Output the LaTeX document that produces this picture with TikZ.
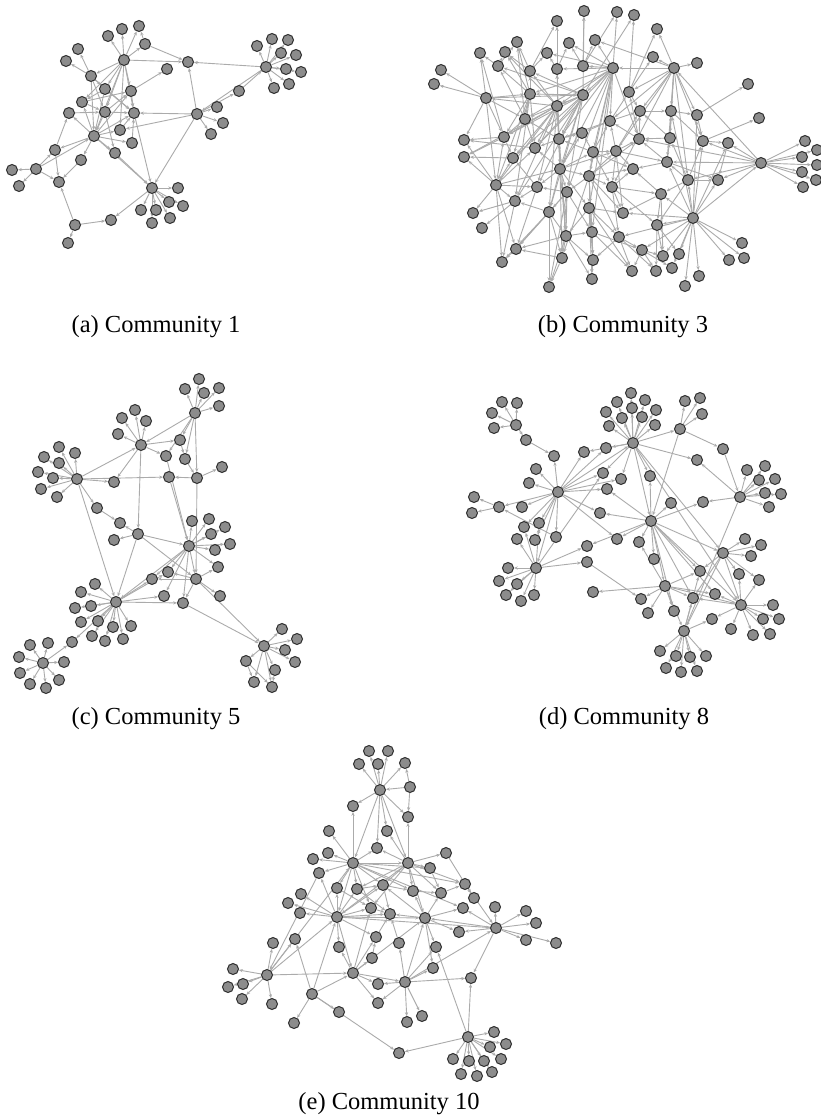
\documentclass[tikz,border=0pt]{standalone}
\usepackage{fontspec}
\setmainfont{Liberation Serif}
\usetikzlibrary{arrows.meta}
\definecolor{vfill}{HTML}{8C8C8C}
\definecolor{vline}{HTML}{2F2F2F}
\definecolor{egray}{HTML}{ABABAB}
\pgfdeclarelayer{back}
\pgfdeclarelayer{edges}
\pgfsetlayers{back,edges,main}
\tikzset{
  vtx/.style={circle, draw=vline, fill=vfill, line width=1pt, minimum size=11pt, inner sep=0pt},
  link/.style={draw=egray, line width=0.9pt, -{Stealth[length=3.8pt,width=3.2pt]}},
  caption/.style={anchor=base, font=\fontsize{24.5}{28}\selectfont, inner sep=0pt}
}
% place a community's vertices: prefix, list of id/x/y
\newcommand\placeall[2]{\foreach \vid/\px/\py in {#2} {\node[vtx] (#1\vid) at (\px,\py) {};}}
% draw a community's directed links: prefix, list of source/target
\newcommand\linkall[2]{\begin{pgfonlayer}{edges}\foreach \src/\dst in {#2} {\draw[link] (#1\src) -- (#1\dst);}\end{pgfonlayer}}
\begin{document}
\begin{tikzpicture}[x=1pt,y=-1pt]
\begin{pgfonlayer}{back}
\fill[white] (0,0) rectangle (821,1118);
\end{pgfonlayer}
\useasboundingbox (0,0) rectangle (821,1118);

% ---------------- Community 1 ----------------
\placeall{a}{1/122/29,2/139/26,3/108/36,4/145/44,5/124/60,6/78/49,7/66/61,8/91/76,9/188/62,10/167/69,
11/105/89,12/131/91,13/82/102,14/69/113,15/105/112,16/134/113,17/197/114,18/217/107,19/223/123,20/211/134,
21/120/130,22/94/136,23/132/143,24/115/153,25/55/150,26/81/160,27/36/169,28/12/170,29/19/186,30/59/182,
31/152/188,32/178/188,33/169/202,34/183/206,35/141/210,36/156/210,37/170/218,38/152/223,39/111/220,40/75/225,
41/68/243,42/239/91,43/266/67,44/257/46,45/272/39,46/288/40,47/281/53,48/296/55,49/286/69,50/301/72,
51/274/88,52/289/84}
\linkall{a}{5/1,5/2,5/3,5/4,4/2,4/9,5/9,43/9,17/9,8/6,8/7,5/8,5/11,5/12,5/15,5/13,5/22,5/16,5/21,
8/15,8/22,8/16,8/11,11/16,11/22,11/13,12/10,12/16,13/15,13/12,22/14,14/15,15/16,15/22,15/12,15/24,
17/16,17/21,17/18,17/19,17/20,17/42,42/43,43/17,17/31,16/31,22/21,22/23,22/24,22/26,22/25,22/16,22/12,
22/13,22/31,24/31,23/16,21/16,25/14,27/25,27/22,27/28,27/29,27/30,25/30,26/30,40/30,40/39,40/41,
31/39,31/32,31/33,31/34,31/35,31/36,31/37,31/38,43/44,43/45,43/46,43/47,43/48,43/49,43/50,43/51,43/52}
\node[caption] (capa) at (156,332) {(a) Community 1};

% ---------------- Community 3 ----------------
\placeall{b}{1/584/11,2/617/12,3/634/15,4/557/21,5/657/29,6/517/42,7/595/40,8/569/43,9/480/53,10/505/52,
11/547/53,12/653/57,13/498/66,14/441/70,15/530/71,16/557/69,17/583/66,18/613/68,19/674/68,20/697/63,
21/434/84,22/748/84,23/486/98,24/530/94,25/583/95,26/629/92,27/557/106,28/640/111,29/671/111,30/697/115,
31/759/118,32/525/119,33/610/121,34/504/137,35/464/140,36/559/139,37/582/133,38/639/139,39/670/138,40/703/141,
41/728/143,42/805/141,43/464/157,44/513/158,45/535/148,46/593/152,47/616/151,48/817/150,49/802/157,50/667/162,
51/761/163,52/817/165,53/560/169,54/633/169,55/589/176,56/802/172,57/816/180,58/803/187,59/496/185,60/537/187,
61/612/187,62/688/180,63/718/180,64/567/192,65/661/194,66/515/201,67/473/213,68/549/212,69/589/208,70/623/213,
71/482/228,72/657/225,73/693/218,74/566/236,75/592/232,76/619/237,77/742/243,78/516/249,79/642/250,80/663/256,
81/679/254,82/502/262,83/562/258,84/593/260,85/729/260,86/744/258,87/632/271,88/656/271,89/672/268,90/699/276,
91/592/279,92/549/287,93/685/286}
\linkall{b}{51/42,51/48,51/49,51/52,51/56,51/57,51/58,51/40,51/41,51/63,51/50,51/38,51/19,73/51,51/62,30/22,40/31,
19/18,19/20,19/12,19/5,19/29,19/30,19/28,19/26,19/33,19/39,19/7,19/40,19/50,19/47,19/61,19/62,
18/7,18/8,18/16,18/17,18/2,18/24,18/25,18/27,18/32,18/36,18/46,18/45,18/53,18/55,18/64,18/69,18/33,18/38,18/75,18/11,
25/1,25/3,25/13,25/15,25/24,25/27,25/32,25/34,25/36,25/45,25/53,25/60,25/64,25/68,25/44,25/66,
27/4,27/10,27/16,27/15,27/23,27/34,27/43,27/44,27/45,27/53,27/59,27/60,27/66,27/68,27/74,
23/21,23/14,23/9,23/24,23/25,23/34,23/59,23/32,23/35,
24/6,24/10,24/13,24/15,24/32,24/34,24/44,24/45,24/59,24/66,
59/67,59/34,59/35,59/43,59/44,59/66,59/78,59/82,59/60,59/45,59/53,
53/36,53/37,53/46,53/55,53/60,53/64,53/68,53/69,53/45,53/83,53/74,53/47,
55/46,55/47,55/61,55/64,55/69,55/70,55/75,55/76,55/84,55/83,55/38,55/54,
46/37,46/47,46/54,46/36,46/33,46/61,47/38,47/33,47/54,47/28,47/61,47/50,47/70,
64/60,64/68,64/74,64/75,64/83,64/92,64/78,68/66,68/78,68/74,68/83,68/82,68/92,
69/75,69/84,69/76,69/70,69/74,69/87,69/91,60/66,60/44,60/78,61/54,61/70,61/65,61/76,61/72,
62/50,62/65,62/39,62/40,62/63,62/72,65/72,65/54,65/70,65/80,
73/77,73/85,73/86,73/89,73/90,73/93,73/81,73/80,73/72,73/65,73/62,73/50,73/40,73/41,73/29,73/30,73/63,73/70,73/76,73/79,
76/79,76/87,76/88,76/84,74/83,74/84,74/91,74/92,74/75,74/78,75/84,75/91,75/87,75/79,
83/92,83/78,78/82,66/71,66/67,66/82,79/87,79/88,79/80,79/89,72/80,72/81,72/88,
50/54,50/38,50/39,50/63,39/28,39/29,39/38,38/33,38/28,38/26,33/26,33/28,33/36,33/37,
36/37,36/45,36/32,36/16,32/34,32/13,32/6,32/45,34/35,34/43,34/44,34/9,13/9,13/10,13/6,
15/10,15/11,15/6,15/4,16/4,16/8,16/11,17/1,17/7,17/8,17/2,26/3,26/5,26/12,26/28,
28/29,29/30,29/40,30/40,40/41,41/63,45/35,44/43}
\node[caption] (capb) at (623,332) {(b) Community 3};

% ---------------- Community 5 ----------------
\placeall{c}{1/199/379,2/185/389,3/219/388,4/204/393,5/219/406,6/195/413,7/135/410,8/122/418,9/146/421,10/118/434,
11/141/445,12/180/440,13/166/456,14/185/459,15/222/467,16/59/447,17/75/453,18/44/457,19/59/463,20/38/472,
21/53/478,22/77/479,23/114/482,24/169/477,25/197/478,26/41/489,27/57/497,28/97/508,29/120/523,30/138/534,
31/114/540,32/192/521,33/209/519,34/225/527,35/211/534,36/230/544,37/189/546,38/215/550,39/218/567,40/168/572,
41/152/579,42/196/579,43/95/584,44/81/592,45/164/596,46/220/596,47/116/602,48/183/603,49/75/608,50/91/606,
51/81/622,52/98/621,53/113/627,54/131/626,55/92/636,56/105/641,57/123/639,58/72/642,59/30/645,60/48/643,
61/19/657,62/43/663,63/64/662,64/20/673,65/59/680,66/30/684,67/46/688,68/264/646,69/282/629,70/297/639,
71/285/650,72/295/662,73/246/661,74/275/670,75/254/682,76/272/687}
\linkall{c}{6/1,6/2,6/3,6/4,6/5,6/11,6/12,6/13,6/14,6/25,
11/7,11/8,11/9,11/10,11/12,11/13,11/23,11/30,22/11,
22/16,22/17,22/18,22/19,22/20,22/21,22/26,22/27,22/23,22/24,25/24,22/28,22/47,
30/29,30/31,30/37,30/42,30/47,28/29,24/37,25/42,25/15,14/25,12/14,13/37,
37/32,37/33,37/34,37/35,37/36,37/38,37/39,37/47,37/41,37/40,37/48,37/45,37/42,
42/39,42/46,42/48,42/40,42/41,42/68,48/68,47/48,47/45,47/40,47/41,
47/43,47/44,47/49,47/50,47/51,47/52,47/53,47/54,47/55,47/56,47/57,47/58,
62/58,62/59,62/60,62/61,62/63,62/64,62/65,62/66,62/67,
68/69,68/70,68/71,68/72,68/73,68/74,68/75,68/76,73/75,73/76,74/76}
\node[caption] (capc) at (156,724) {(c) Community 5};

% ---------------- Community 8 ----------------
\placeall{d}{1/502/402,2/517/403,3/492/413,4/494/428,5/516/425,6/526/440,7/554/456,8/536/469,9/529/483,10/558/492,
11/474/497,12/472/513,13/499/507,14/522/507,15/524/527,16/539/523,17/517/539,18/535/540,19/556/537,20/508/568,
21/536/568,22/499/581,23/517/584,24/506/595,25/521/601,26/534/595,27/631/393,28/617/402,29/645/400,30/606/412,
31/632/408,32/656/410,33/622/418,34/642/417,35/609/426,36/655/425,37/633/443,38/606/448,39/584/452,40/685/401,
41/700/398,42/702/414,43/680/429,44/723/449,45/697/460,46/603/473,47/621/479,48/607/489,49/650/476,50/600/513,
51/651/521,52/671/503,53/703/502,54/747/470,55/765/466,56/759/480,57/775/479,58/740/497,59/765/493,60/781/494,
61/769/507,62/617/539,63/587/546,64/639/542,65/587/562,66/654/559,67/723/553,68/745/539,69/761/545,70/751/556,
71/700/571,72/739/574,73/759/580,74/665/586,75/593/592,76/641/599,77/648/613,78/674/611,79/693/598,80/715/594,
81/741/605,82/773/605,83/712/619,84/731/629,85/763/619,86/779/619,87/753/635,88/770/634,89/684/631,90/660/651,
91/676/656,92/690/657,93/706/656,94/666/668,95/681/672,96/697/671}
\linkall{d}{5/1,5/2,5/3,5/4,5/6,6/7,
10/7,10/8,10/9,10/13,10/14,13/11,13/12,10/15,10/16,10/18,10/19,10/21,10/37,10/38,10/39,10/46,10/48,10/47,10/62,10/50,
37/27,37/28,37/29,37/30,37/31,37/32,37/33,37/34,37/35,37/36,37/38,37/43,37/45,37/47,37/49,37/51,37/46,37/67,37/81,37/39,
43/40,43/41,43/42,43/44,43/51,44/58,58/45,58/54,58/55,58/56,58/57,58/59,58/60,58/61,58/53,58/89,
51/50,51/52,51/53,51/48,51/62,51/63,51/64,51/66,51/74,51/67,51/81,51/78,51/80,51/71,51/79,51/49,
21/20,21/22,21/23,21/24,21/25,21/26,21/15,21/16,21/63,21/65,21/46,21/17,19/13,
74/75,65/76,74/77,74/76,74/78,74/79,74/80,74/81,74/71,74/89,74/64,
67/68,67/69,67/70,67/72,67/73,67/81,67/89,67/71,67/79,
81/82,81/84,81/85,81/86,81/87,81/88,81/83,81/80,81/79,81/72,81/73,
89/90,89/91,89/92,89/93,89/94,89/95,89/96,89/83,89/79,89/71}
\node[caption] (capd) at (624,724) {(d) Community 8};

% ---------------- Community 10 ----------------
\placeall{e}{1/369/751,2/388/751,3/359/764,4/378/764,5/405/763,6/380/790,7/410/787,8/353/806,9/408/817,10/329/831,
11/387/831,12/377/848,13/328/853,14/313/859,15/353/863,16/408/863,17/446/853,18/430/868,19/319/873,20/337/888,
21/357/889,22/383/885,23/413/891,24/441/893,25/465/884,26/474/898,27/301/894,28/288/903,29/300/913,30/371/908,
31/390/914,32/425/918,33/463/908,34/495/907,35/526/911,36/536/923,37/337/917,38/376/937,39/399/943,40/459/932,
41/496/928,42/526/940,43/556/943,44/273/943,45/295/939,46/339/947,47/372/958,48/436/947,49/433/968,50/233/969,
51/267/975,52/353/973,53/228/987,54/243/984,55/378/984,56/405/982,57/471/978,58/242/999,59/272/1004,60/312/994,
61/339/1012,62/378/1003,63/294/1023,64/407/1022,65/422/1016,66/399/1053,67/468/1037,68/494/1032,69/490/1047,70/506/1044,
71/453/1059,72/469/1061,73/484/1061,74/501/1059,75/461/1074,76/477/1076,77/492/1072}
\linkall{e}{6/1,6/2,6/3,6/4,6/5,7/6,7/5,7/9,6/8,6/9,6/11,6/15,6/16,6/12,
15/10,15/13,15/14,15/8,15/12,15/16,15/19,15/20,15/21,15/22,15/23,15/18,15/25,15/33,15/30,15/37,
16/9,16/17,16/18,16/22,16/23,16/32,16/24,16/25,16/37,16/21,16/30,16/12,16/11,
37/27,37/28,37/29,37/20,37/21,37/30,37/31,37/32,37/41,37/46,37/52,37/38,37/19,37/22,
41/33,41/34,41/35,41/36,41/42,41/43,41/40,41/57,41/32,25/41,
32/31,32/33,32/40,32/48,32/22,32/23,32/24,32/49,
51/50,51/53,51/54,51/58,51/59,51/44,51/45,51/37,51/52,51/15,19/51,
60/63,60/61,60/52,60/66,60/37,60/45,
52/46,52/47,52/55,52/62,52/38,52/30,52/32,52/56,
56/55,56/57,56/64,56/65,56/62,56/49,56/32,56/48,56/41,56/39,
67/66,67/68,67/69,67/70,67/71,67/72,67/73,67/74,67/75,67/76,67/77,67/48,67/57,
21/31,22/31,20/30,23/24,24/25,25/26,17/26,18/24,38/31,47/38,39/31,30/31,21/22,22/23}
\node[caption] (cape) at (389,1109) {(e) Community 10};
\end{tikzpicture}
\end{document}
